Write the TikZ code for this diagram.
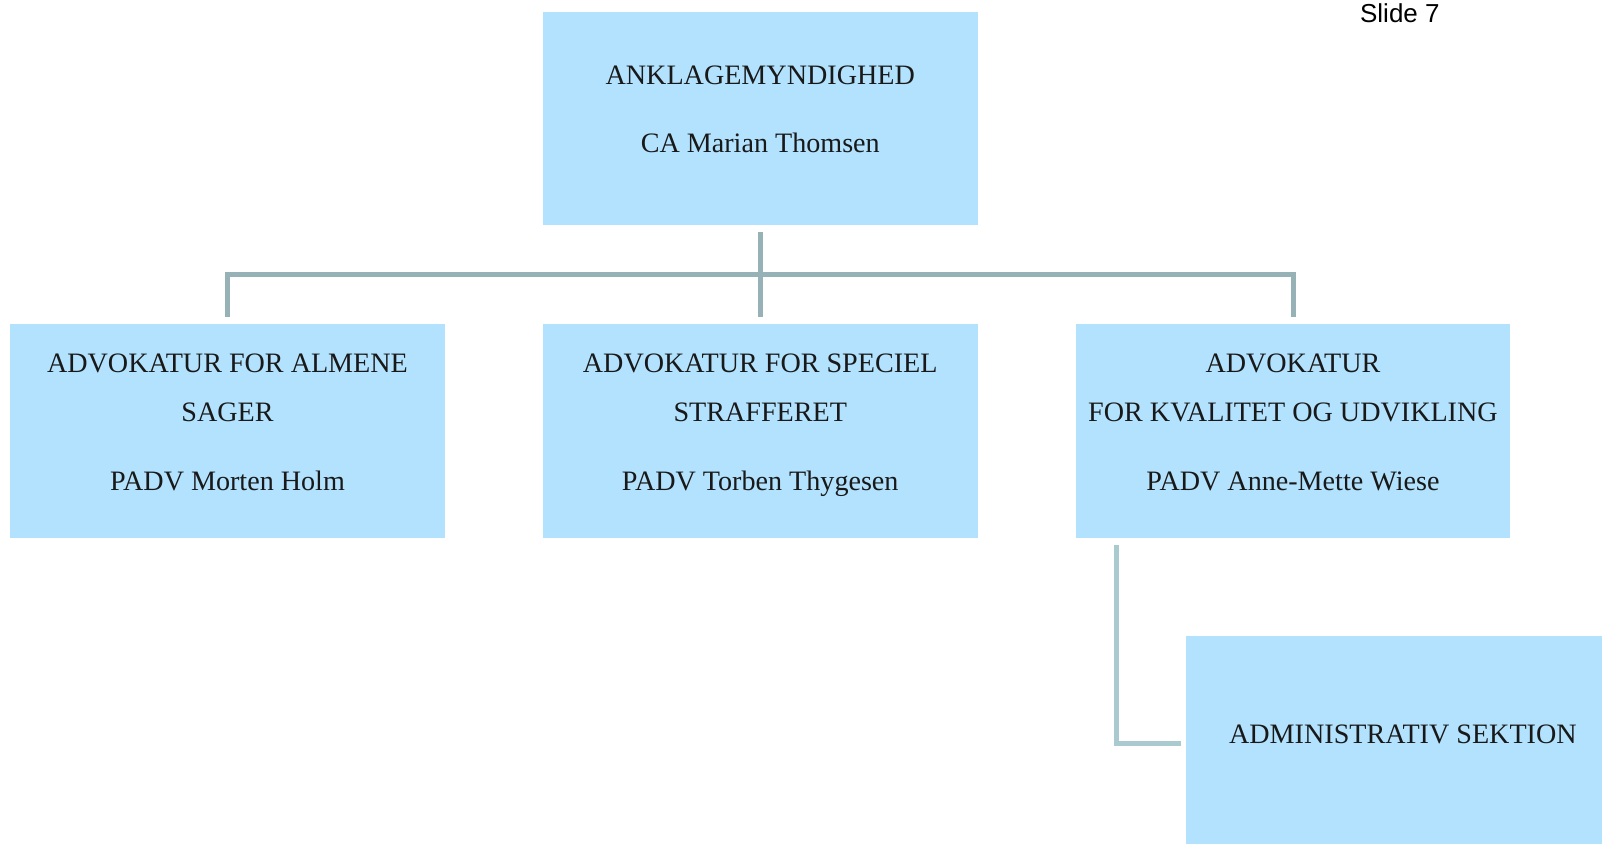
\documentclass[tikz,border=0pt]{standalone}
\usepackage{fontspec}
\setmainfont{Liberation Serif}
\newfontfamily\slidefont{Liberation Sans}
\usetikzlibrary{calc}
\definecolor{boxfill}{RGB}{178,226,253}
\definecolor{conndark}{RGB}{150,178,183}
\definecolor{connlight}{RGB}{169,202,206}
\tikzset{
  orgbox/.style={rectangle, fill=boxfill, draw=none, inner sep=0pt},
  txt/.style={anchor=base, inner sep=0pt, font=\fontsize{27.5}{32}\selectfont, text=black!90},
  conn/.style={draw=conndark, line width=5pt, line join=miter},
  connb/.style={draw=connlight, line width=5pt, line join=miter}
}
\begin{document}
\begin{tikzpicture}[x=1pt,y=-1pt,scale=1.0225,transform shape]
\useasboundingbox (0,0) rectangle (1566.7,824.45);
% boxes
\node[orgbox, minimum width=425pt, minimum height=208pt] (top) at (743.5,116) {};
\node[orgbox, minimum width=425pt, minimum height=209pt] (b1) at (222.5,421.5) {};
\node[orgbox, minimum width=425pt, minimum height=209pt] (b2) at (743.5,421.5) {};
\node[orgbox, minimum width=425pt, minimum height=209pt] (b3) at (1264.5,421.5) {};
\node[orgbox, minimum width=442pt, minimum height=221pt] (adm) at (1381,732.5) {};
% texts
\node[txt] (t1) at (743.5,82.5) {ANKLAGEMYNDIGHED};
\node[txt] (t2) at (743.5,149.5) {CA Marian Thomsen};
\node[txt] (a1) at (222.5,364.5) {ADVOKATUR FOR ALMENE};
\node[txt] (a2) at (222.5,412.5) {SAGER};
\node[txt] (a3) at (222.5,479.5) {PADV Morten Holm};
\node[txt] (s1) at (743.5,364.5) {ADVOKATUR FOR SPECIEL};
\node[txt] (s2) at (743.5,412.5) {STRAFFERET};
\node[txt] (s3) at (743.5,479.5) {PADV Torben Thygesen};
\node[txt] (k1) at (1264.5,364.5) {ADVOKATUR};
\node[txt] (k2) at (1264.5,412.5) {FOR KVALITET OG UDVIKLING};
\node[txt] (k3) at (1264.5,479.5) {PADV Anne-Mette Wiese};
\node[txt] (ad1) at (1372,727.5) {ADMINISTRATIV SEKTION};
\node[anchor=base, inner sep=0pt, font=\slidefont\fontsize{25.4}{30}\selectfont] (slide) at (1369,22) {Slide 7};
% connectors
\coordinate (bus) at (743.5,268);
\coordinate (admjoin) at (1092,727);
\draw[conn] ($(top.south)+(0,7)$) -- ($(b2.north)+(0,-7)$);
\draw[conn] ($(b1.north)+(0,-7)$) -- (b1.north |- bus) -- (b3.north |- bus) -- ($(b3.north)+(0,-7)$);
\draw[connb] (admjoin |- {$(b3.south)+(0,7)$}) -- (admjoin) -- ($(adm.west |- admjoin)+(-5,0)$);
\end{tikzpicture}
\end{document}
